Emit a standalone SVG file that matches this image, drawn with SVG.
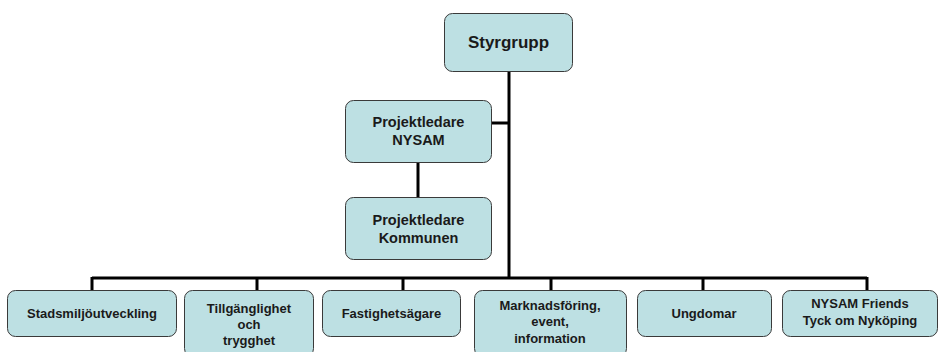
<svg xmlns="http://www.w3.org/2000/svg" width="939" height="352" viewBox="0 0 939 352">
<style>
.box{fill:#bde0e3;stroke:#3a3a3a;stroke-width:1}
.t{font-family:"Liberation Sans",Arial,sans-serif;font-weight:bold;fill:#1a1a1a;text-anchor:middle;font-size:13px}
.m{font-size:14.5px}
.big{font-size:17px}
.c{stroke:#000;stroke-width:3;fill:none}
</style>
<rect width="939" height="352" fill="#fff"/>
<g id="connectors">
<path class="c" d="M509 71V278"/>
<path class="c" d="M492 123H509"/>
<path class="c" d="M418 162V197"/>
<path class="c" d="M92 278H867"/>
<path class="c" d="M92 277V290M257 277V290M403 277V290M551 277V290M703 277V290M867 277V290"/>
</g>
<g id="styrgrupp"><rect class="box" x="444.5" y="13.5" width="128" height="58" rx="8"/><text class="t big" x="508.5" y="48">Styrgrupp</text></g>
<g id="projektledare-nysam"><rect class="box" x="345.5" y="100.5" width="146" height="62" rx="8"/><text class="t m" x="418.5" y="127">Projektledare</text><text class="t m" x="418.5" y="145">NYSAM</text></g>
<g id="projektledare-kommunen"><rect class="box" x="345.5" y="197.5" width="146" height="62" rx="8"/><text class="t m" x="418.5" y="225">Projektledare</text><text class="t m" x="418.5" y="243">Kommunen</text></g>
<g id="stadsmiljo"><rect class="box" x="7.5" y="290.5" width="169" height="46" rx="8"/><text class="t" x="92" y="318">Stadsmiljöutveckling</text></g>
<g id="tillganglighet"><rect class="box" x="184.5" y="290.5" width="129" height="66" rx="8"/><text class="t" x="249" y="313">Tillgänglighet</text><text class="t" x="249" y="329">och</text><text class="t" x="249" y="345">trygghet</text></g>
<g id="fastighetsagare"><rect class="box" x="322.5" y="290.5" width="138" height="46" rx="8"/><text class="t" x="391.5" y="318">Fastighetsägare</text></g>
<g id="marknadsforing"><rect class="box" x="474.5" y="290.5" width="152" height="66" rx="8"/><text class="t" x="550" y="310">Marknadsföring,</text><text class="t" x="550" y="326">event,</text><text class="t" x="550" y="343">information</text></g>
<g id="ungdomar"><rect class="box" x="637.5" y="290.5" width="134" height="46" rx="8"/><text class="t" x="704" y="318">Ungdomar</text></g>
<g id="nysam-friends"><rect class="box" x="782.5" y="290.5" width="155" height="46" rx="8"/><text class="t" x="860" y="308">NYSAM Friends</text><text class="t" x="860" y="325">Tyck om Nyköping</text></g>
</svg>
